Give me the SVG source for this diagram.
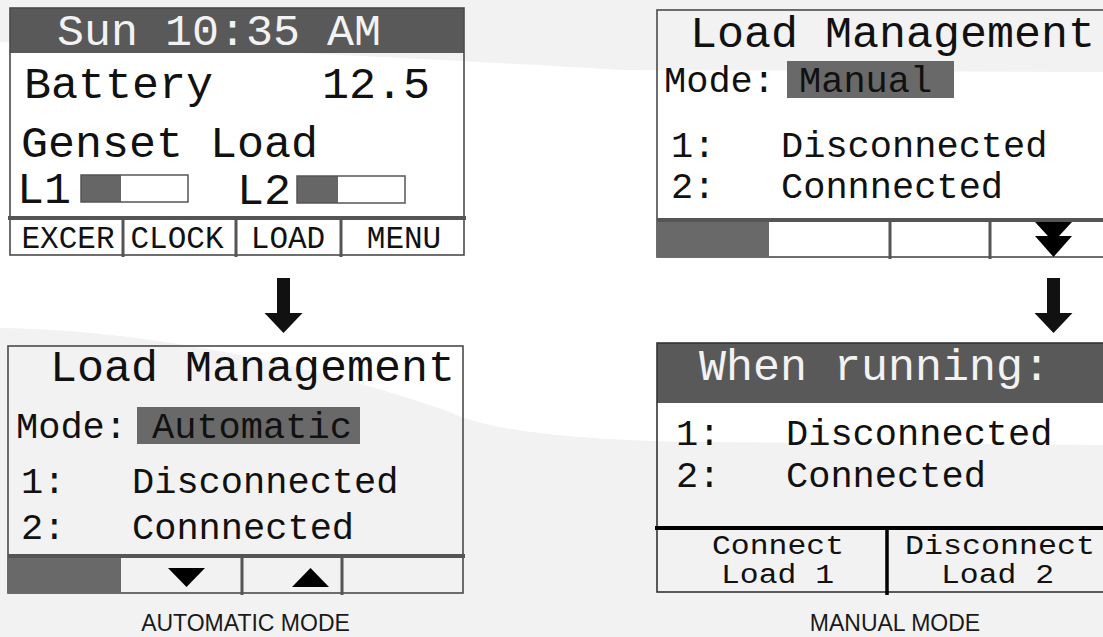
<svg xmlns="http://www.w3.org/2000/svg" width="1103" height="637" viewBox="0 0 1103 637">
<style>
.mono{font-family:"Liberation Mono","Courier New",monospace;fill:#111}
.big{font-size:45px}
.mid{font-size:37px}
.btn{font-size:31px}
.btn2{font-size:27px}
.inv{fill:#f2f2f2}
.box{fill:none;stroke:#4a4a4a;stroke-width:1.6}
.sep{stroke:#555;stroke-width:4}
.div{stroke:#555;stroke-width:3}
.dark{fill:#595959}
.hl{fill:#696969}
.cap{font-family:"Liberation Sans",Arial,sans-serif;font-size:23px;fill:#1a1a1a}
</style>
<defs>
<g id="bigArrow"><path d="M-6.5,0 H6.5 V35 H19 L0,55 L-19,35 H-6.5 Z" fill="#111"/></g>
</defs>
<rect width="1103" height="637" fill="#f2f2f2"/>
<path d="M0,42 C200,48 420,58 620,70 L1103,72 L1103,445 L700,442 C560,440 480,428 450,412 C330,370 160,330 0,328 Z" fill="#ffffff"/>

<g id="panel-clock">
<rect class="dark" x="10" y="8" width="454" height="45"/>
<rect class="box" x="10" y="8" width="454" height="247"/>
<text class="mono big inv" x="57" y="45">Sun 10:35 AM</text>
<text class="mono big" x="24" y="98">Battery</text>
<text class="mono big" x="322" y="98">12.5</text>
<text class="mono big" x="21" y="157">Genset Load</text>
<text class="mono big" x="17" y="203">L1</text>
<rect x="81" y="175" width="40" height="27" fill="#666"/>
<rect x="81" y="175" width="107" height="27" fill="none" stroke="#555" stroke-width="1.5"/>
<text class="mono big" x="237" y="204">L2</text>
<rect x="297" y="176" width="41" height="27" fill="#666"/>
<rect x="297" y="176" width="108" height="27" fill="none" stroke="#555" stroke-width="1.5"/>
<line class="sep" x1="8" y1="218" x2="466" y2="218"/>
<line class="div" x1="123" y1="218" x2="123" y2="257"/>
<line class="div" x1="236" y1="218" x2="236" y2="257"/>
<line class="div" x1="341" y1="218" x2="341" y2="257"/>
<text class="mono btn" x="68" y="248" text-anchor="middle">EXCER</text>
<text class="mono btn" x="177" y="248" text-anchor="middle">CLOCK</text>
<text class="mono btn" x="288" y="248" text-anchor="middle">LOAD</text>
<text class="mono btn" x="404" y="248" text-anchor="middle">MENU</text>
</g>

<g id="panel-auto">
<rect class="box" x="8" y="346" width="455" height="247"/>
<text class="mono big" x="50" y="381">Load Management</text>
<text class="mono mid" x="16" y="438">Mode:</text>
<rect class="hl" x="137" y="407" width="223" height="37"/>
<text class="mono mid" x="152" y="438">Automatic</text>
<text class="mono mid" x="21" y="493">1:</text>
<text class="mono mid" x="132" y="493">Disconnected</text>
<text class="mono mid" x="21" y="539">2:</text>
<text class="mono mid" x="132" y="539">Connnected</text>
<rect class="hl" x="8" y="556" width="113" height="37"/>
<line class="sep" x1="8" y1="556" x2="465" y2="556"/>
<line class="div" x1="242" y1="556" x2="242" y2="595"/>
<line class="div" x1="342" y1="556" x2="342" y2="595"/>
<path d="M168,568 H205 L186.5,587 Z" fill="#000"/>
<path d="M292,587 H329 L310.5,568 Z" fill="#000"/>
<text class="cap" x="245.5" y="631" text-anchor="middle">AUTOMATIC MODE</text>
</g>

<g id="panel-manual">
<rect class="box" x="657" y="10" width="460" height="247"/>
<text class="mono big" x="690" y="47">Load Management</text>
<text class="mono mid" x="664" y="92">Mode:</text>
<rect class="hl" x="787" y="61" width="167" height="37"/>
<text class="mono mid" x="799" y="92">Manual</text>
<text class="mono mid" x="671" y="157">1:</text>
<text class="mono mid" x="781" y="157">Disconnected</text>
<text class="mono mid" x="671" y="198">2:</text>
<text class="mono mid" x="781" y="198">Connnected</text>
<rect class="hl" x="657" y="220" width="112" height="37"/>
<line class="sep" x1="657" y1="220" x2="1103" y2="220"/>
<line class="div" x1="890" y1="220" x2="890" y2="259"/>
<line class="div" x1="990" y1="220" x2="990" y2="259"/>
<path d="M1035,222 H1072 L1053.5,242 Z" fill="#000"/>
<path d="M1035,236 H1072 L1053.5,257 Z" fill="#000"/>
</g>

<g id="panel-running">
<rect class="dark" x="657" y="343" width="460" height="60"/>
<rect fill="none" stroke="#333" stroke-width="1.6" x="657" y="343" width="460" height="249"/>
<text class="mono big inv" x="699" y="380">When running:</text>
<text class="mono mid" x="676" y="445">1:</text>
<text class="mono mid" x="786" y="445">Disconnected</text>
<text class="mono mid" x="676" y="487">2:</text>
<text class="mono mid" x="786" y="487">Connected</text>
<line stroke="#000" stroke-width="4" x1="655" y1="528" x2="1103" y2="528"/>
<line stroke="#000" stroke-width="3.5" x1="887" y1="528" x2="887" y2="595"/>
<text class="mono btn2" x="712" y="554" textLength="132" lengthAdjust="spacingAndGlyphs">Connect</text>
<text class="mono btn2" x="721" y="583" textLength="113" lengthAdjust="spacingAndGlyphs">Load 1</text>
<text class="mono btn2" x="905" y="554" textLength="190" lengthAdjust="spacingAndGlyphs">Disconnect</text>
<text class="mono btn2" x="941" y="583" textLength="113" lengthAdjust="spacingAndGlyphs">Load 2</text>
<text class="cap" x="895" y="631" text-anchor="middle">MANUAL MODE</text>
</g>

<g id="connectors">
<use href="#bigArrow" x="283.5" y="278"/>
<use href="#bigArrow" x="1053.5" y="278"/>
</g>
</svg>
